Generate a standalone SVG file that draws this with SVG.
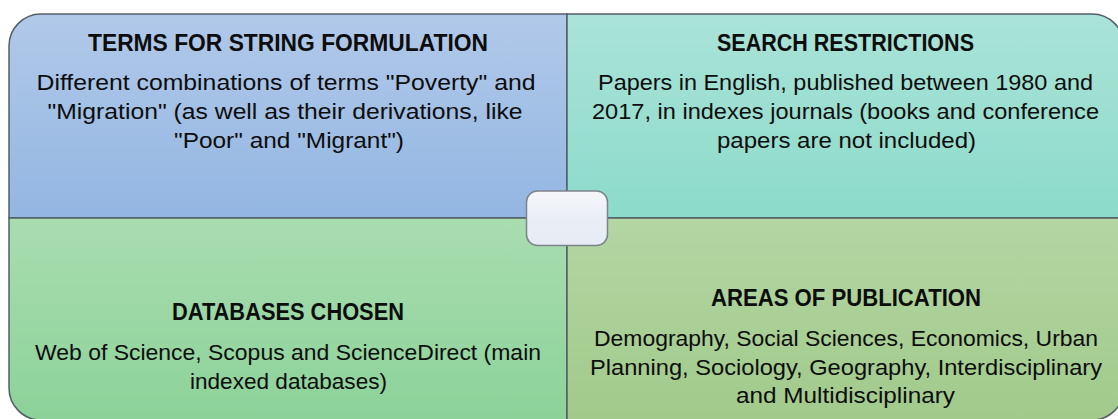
<svg xmlns="http://www.w3.org/2000/svg" width="1118" height="419" viewBox="0 0 1118 419">
  <defs>
    <linearGradient id="gTL" x1="0" y1="0" x2="0" y2="1">
      <stop offset="0" stop-color="#b1c9e9"/>
      <stop offset="1" stop-color="#93b6e2"/>
    </linearGradient>
    <linearGradient id="gTR" x1="0" y1="0" x2="0" y2="1">
      <stop offset="0" stop-color="#aae3d8"/>
      <stop offset="1" stop-color="#8cdbca"/>
    </linearGradient>
    <linearGradient id="gBL" x1="0" y1="0" x2="0" y2="1">
      <stop offset="0" stop-color="#a9ddb0"/>
      <stop offset="1" stop-color="#8cd299"/>
    </linearGradient>
    <linearGradient id="gBR" x1="0" y1="0" x2="0" y2="1">
      <stop offset="0" stop-color="#b3d6a3"/>
      <stop offset="1" stop-color="#a1ca8b"/>
    </linearGradient>
    <linearGradient id="gC" x1="0" y1="0" x2="0" y2="1">
      <stop offset="0" stop-color="#f6f7fb"/>
      <stop offset="0.5" stop-color="#eaeef6"/>
      <stop offset="1" stop-color="#e6ebf5"/>
    </linearGradient>
  </defs>
  <style>
    .quad { stroke: #545d68; stroke-width: 1.5; }
    .title { font-family: "Liberation Sans", Arial, sans-serif; font-weight: bold; font-size: 23.5px; fill: #0d0d0d; text-anchor: middle; }
    .body { font-family: "Liberation Sans", Arial, sans-serif; font-size: 21.5px; fill: #0d0d0d; text-anchor: middle; }
  </style>
  <rect width="1118" height="419" fill="#ffffff"/>

  <g id="node-terms">
    <path class="quad" fill="url(#gTL)" d="M9,218 V46 A32,32 0 0 1 41,14 H567 V218 Z"/>
    <text class="title" x="288" y="50.5" textLength="400" lengthAdjust="spacingAndGlyphs">TERMS FOR STRING FORMULATION</text>
    <text class="body" x="286" y="89.5" textLength="499" lengthAdjust="spacingAndGlyphs">Different combinations of terms "Poverty" and</text>
    <text class="body" x="285" y="118.5" textLength="475" lengthAdjust="spacingAndGlyphs">"Migration" (as well as their derivations, like</text>
    <text class="body" x="289" y="147.5" textLength="230" lengthAdjust="spacingAndGlyphs">"Poor" and "Migrant")</text>
  </g>

  <g id="node-search">
    <path class="quad" fill="url(#gTR)" d="M567,14 H1092 A32,32 0 0 1 1124,46 V218 H567 Z"/>
    <text class="title" x="845.5" y="50.5" textLength="257" lengthAdjust="spacingAndGlyphs">SEARCH RESTRICTIONS</text>
    <text class="body" x="845.5" y="89.5" textLength="495" lengthAdjust="spacingAndGlyphs">Papers in English, published between 1980 and</text>
    <text class="body" x="845.5" y="118.5" textLength="507" lengthAdjust="spacingAndGlyphs">2017, in indexes journals (books and conference</text>
    <text class="body" x="846.5" y="147.5" textLength="259" lengthAdjust="spacingAndGlyphs">papers are not included)</text>
  </g>

  <g id="node-databases">
    <path class="quad" fill="url(#gBL)" d="M9,218 H567 V420 H41 A32,32 0 0 1 9,388 Z"/>
    <text class="title" x="288" y="319.5" textLength="232" lengthAdjust="spacingAndGlyphs">DATABASES CHOSEN</text>
    <text class="body" x="288" y="360" textLength="506" lengthAdjust="spacingAndGlyphs">Web of Science, Scopus and ScienceDirect (main</text>
    <text class="body" x="288.5" y="389" textLength="197" lengthAdjust="spacingAndGlyphs">indexed databases)</text>
  </g>

  <g id="node-areas">
    <path class="quad" fill="url(#gBR)" d="M567,218 H1124 V388 A32,32 0 0 1 1092,420 H567 Z"/>
    <text class="title" x="846" y="305.7" textLength="270" lengthAdjust="spacingAndGlyphs">AREAS OF PUBLICATION</text>
    <text class="body" x="846" y="346" textLength="504" lengthAdjust="spacingAndGlyphs">Demography, Social Sciences, Economics, Urban</text>
    <text class="body" x="846" y="374.5" textLength="512" lengthAdjust="spacingAndGlyphs">Planning, Sociology, Geography, Interdisciplinary</text>
    <text class="body" x="845.5" y="403" textLength="219" lengthAdjust="spacingAndGlyphs">and Multidisciplinary</text>
  </g>

  <g id="node-center">
    <rect x="526.5" y="191" width="81" height="54.5" rx="11" ry="11" fill="url(#gC)" stroke="#7d848c" stroke-width="1.5"/>
  </g>

  <g id="connectors"></g>
</svg>
